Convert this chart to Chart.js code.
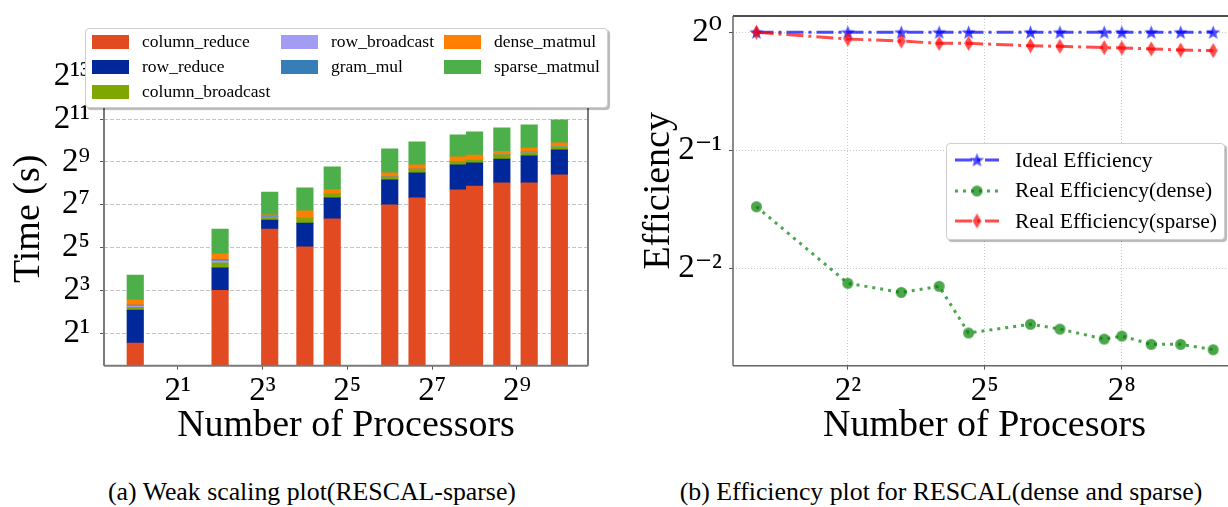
<!DOCTYPE html>
<html>
<head>
<meta charset="utf-8">
<script src="https://cdn.jsdelivr.net/npm/chart.js@4.4.0/dist/chart.umd.min.js"></script>
<style>
  html, body { margin: 0; padding: 0; width: 1228px; height: 507px; overflow: hidden; background: #fff; }
  body { position: relative; font-family: 'Liberation Serif', 'DejaVu Serif', serif; color: #000; }
  .wrap { position: absolute; top: 0; height: 460px; }
  #left-wrap { left: 0; width: 620px; }
  #right-wrap { left: 620px; width: 640px; }
  .legend { position: absolute; background: #fff; border: 1px solid #cfcfcf; border-radius: 4px;
            box-shadow: 2px 2px 1px rgba(0,0,0,0.28); box-sizing: border-box; }
  #time-legend { left: 85px; top: 28px; width: 523px; height: 80px; padding-left: 6px;
                 display: grid; grid-template-rows: repeat(3, 25px);
                 grid-template-columns: 189px 163px 160px; font-size: 17.5px; }
  #time-legend .item { display: flex; align-items: center; white-space: nowrap; }
  #time-legend .sw { width: 37px; height: 14px; margin-right: 13px; flex: none; }
  #eff-legend { left: 946px; top: 143px; width: 279px; height: 97px; padding: 1px 0 0 8px; font-size: 21.5px; }
  #eff-legend .item { display: flex; align-items: center; height: 30.5px; white-space: nowrap; }
  #eff-legend canvas { margin-right: 16px; flex: none; }
  .caption { position: absolute; top: 477px; font-size: 25.8px; line-height: 30px; text-align: center; }
</style>
</head>
<body>
<div class="wrap" id="left-wrap"><canvas id="timeChart"></canvas></div>
<div class="wrap" id="right-wrap"><canvas id="effChart"></canvas></div>
<div class="legend" id="time-legend"></div>
<div class="legend" id="eff-legend"></div>
<div class="caption" style="left:0; width:624px;">(a) Weak scaling plot(RESCAL-sparse)</div>
<div class="caption" style="left:620px; width:642px;">(b) Efficiency plot for RESCAL(dense and sparse)</div>

<script>
// --- Data ---
const processors = [1, 4, 9, 16, 25, 64, 100, 196, 256, 400, 625, 1024];

// time per kernel (s), stacked bottom to top
const columnReduce    = [1.46, 8.0, 58.5, 32.7, 81, 128, 160, 208, 235, 260, 260, 338];
const rowReduce       = [2.79, 8.6, 19.5, 37.8, 79, 158, 200, 257, 263, 304, 366, 422];
const columnBroadcast = [0.38, 2.9, 6.5, 13.4, 22, 27, 41, 43, 51, 79, 64, 78];
const rowBroadcast    = [0.22, 1.3, 2.0, 0.5, 0.5, 1, 2, 2, 2, 2, 3, 2];
const gramMul         = [0.12, 0.8, 2.1, 0.5, 0.5, 1, 2, 2, 2, 2, 14, 2];
const denseMatmul     = [0.93, 4.6, 4.0, 20, 26, 45, 60, 93, 86, 72, 102, 107];
const sparseMatmul    = [7.3, 32.3, 101, 116, 228, 421, 517, 630, 722, 822, 889, 1057];

// efficiency
const idealEff  = [1, 1, 1, 1, 1, 1, 1, 1, 1, 1, 1, 1];
const denseEff  = [0.359, 0.229, 0.217, 0.225, 0.171, 0.180, 0.175, 0.165, 0.168, 0.160, 0.160, 0.155];
const sparseEff = [1.0, 0.961, 0.950, 0.937, 0.937, 0.924, 0.921, 0.914, 0.912, 0.907, 0.901, 0.898];

// tick exponents (base 2)
const timeXTicks = [1, 3, 5, 7, 9];
const timeYTicks = [1, 3, 5, 7, 9, 11, 13];
const effXTicks  = [2, 5, 8];
const effYTicks  = [0, -1, -2];

// --- Helpers ---
const SUP = {'0':'⁰','1':'¹','2':'²','3':'³','4':'⁴','5':'⁵','6':'⁶','7':'⁷','8':'⁸','9':'⁹','-':'⁻'};
const pow2Label = (v) => '2' + String(Math.round(Math.log2(v))).split('').map(c => SUP[c]).join('');
const pow2Ticks = (exps) => (axis) => { axis.ticks = exps.map(e => ({ value: Math.pow(2, e) })); };
const pts = (ys) => processors.map((x, i) => ({ x: x, y: ys[i] }));

// fix the axis box size and drop the label overhang padding
const fixWidth = (w) => (s) => { s.width = w; s.paddingTop = 0; s.paddingBottom = 0; };
const fixHeight = (h) => (s) => { s.height = h; s.paddingLeft = 0; s.paddingRight = 0; };

Chart.defaults.font.family = "'Liberation Serif', 'DejaVu Serif', serif";
Chart.defaults.color = '#000';
Chart.defaults.animation = false;

// frame around plot area (matplotlib spines)
const framePlugin = {
    id: 'frame',
    afterDraw(chart, args, opts) {
        const { ctx, chartArea: a } = chart;
        ctx.save();
        ctx.lineWidth = opts.width;
        const side = (color, x1, y1, x2, y2) => {
            ctx.strokeStyle = color;
            ctx.beginPath(); ctx.moveTo(x1, y1); ctx.lineTo(x2, y2); ctx.stroke();
        };
        side(opts.top, a.left, a.top, a.right, a.top);
        side(opts.right, a.right, a.top, a.right, a.bottom);
        side(opts.left, a.left, a.top, a.left, a.bottom);
        side(opts.bottom, a.left, a.bottom, a.right, a.bottom);
        ctx.restore();
    }
};

// marker images
function starMarker(r, color) {
    const c = document.createElement('canvas');
    c.width = c.height = Math.ceil(r * 2 + 2);
    const g = c.getContext('2d');
    g.translate(c.width / 2, c.height / 2 + 0.5);
    g.beginPath();
    for (let i = 0; i < 10; i++) {
        const rr = i % 2 ? r * 0.42 : r;
        const a = -Math.PI / 2 + i * Math.PI / 5;
        g.lineTo(rr * Math.cos(a), rr * Math.sin(a));
    }
    g.closePath();
    g.fillStyle = color;
    g.fill();
    return c;
}
function diamondMarker(w, h, color) {
    const c = document.createElement('canvas');
    c.width = Math.ceil(w + 2); c.height = Math.ceil(h + 2);
    const g = c.getContext('2d');
    g.translate(c.width / 2, c.height / 2);
    g.beginPath();
    g.moveTo(0, -h / 2); g.lineTo(w / 2, 0); g.lineTo(0, h / 2); g.lineTo(-w / 2, 0);
    g.closePath();
    g.fillStyle = color;
    g.fill();
    return c;
}
function circleMarker(r, color) {
    const c = document.createElement('canvas');
    c.width = c.height = Math.ceil(r * 2 + 2);
    const g = c.getContext('2d');
    g.beginPath();
    g.arc(c.width / 2, c.height / 2, r, 0, Math.PI * 2);
    g.fillStyle = color;
    g.fill();
    return c;
}

// --- Weak scaling (stacked bars) ---
const kernels = [
    { label: 'column_reduce',    data: columnReduce,    color: '#e24a21' },
    { label: 'row_reduce',       data: rowReduce,       color: '#00289a' },
    { label: 'column_broadcast', data: columnBroadcast, color: '#7ea800' },
    { label: 'row_broadcast',    data: rowBroadcast,    color: '#a29cf2' },
    { label: 'gram_mul',         data: gramMul,         color: '#377eb8' },
    { label: 'dense_matmul',     data: denseMatmul,     color: '#ff7f00' },
    { label: 'sparse_matmul',    data: sparseMatmul,    color: '#4daf4a' }
];

const timeChart = new Chart(document.getElementById('timeChart').getContext('2d'), {
    type: 'bar',
    data: {
        datasets: kernels.map(k => ({
            label: k.label,
            data: pts(k.data),
            backgroundColor: k.color,
            borderWidth: 0,
            barThickness: 16.5
        }))
    },
    options: {
        responsive: true,
        maintainAspectRatio: false,
        layout: { padding: { left: 0, top: 72, right: 32, bottom: 11 } },
        plugins: {
            legend: { display: false },
            tooltip: { enabled: false },
            frame: { width: 2, top: '#7a7a7a', right: '#7a7a7a', left: '#7a7a7a', bottom: '#7a7a7a' }
        },
        scales: {
            x: {
                type: 'logarithmic',
                stacked: true,
                offset: false,
                min: Math.pow(2, -0.71),
                max: Math.pow(2, 10.675),
                afterBuildTicks: pow2Ticks(timeXTicks),
                afterFit: fixHeight(83.3),
                border: { display: false },
                grid: { offset: false, color: 'rgba(0,0,0,0)', tickColor: '#555', tickLength: 4 },
                ticks: { callback: pow2Label, autoSkip: false, maxRotation: 0, padding: 2, font: { size: 33 } },
                title: { display: true, text: 'Number of Processors', font: { size: 38 }, padding: { top: 0, bottom: 0 } }
            },
            y: {
                type: 'logarithmic',
                stacked: true,
                min: Math.pow(2, -0.51),
                max: Math.pow(2, 13.2),
                afterBuildTicks: pow2Ticks(timeYTicks),
                afterFit: fixWidth(104),
                border: { display: false, dash: [4, 2] },
                grid: { color: '#c4c4c4', tickColor: '#555', tickLength: 4, tickBorderDash: [] },
                ticks: { callback: pow2Label, autoSkip: false, padding: 10, font: { size: 33 } },
                title: { display: true, text: 'Time (s)', font: { size: 38 }, padding: { top: 6, bottom: 0 } }
            }
        }
    },
    plugins: [framePlugin]
});

// legend, filled column by column like matplotlib (3 + 2 + 2)
const timeLegend = document.getElementById('time-legend');
const legendCols = [0, 0, 0, 1, 1, 2, 2];
const legendRows = [0, 1, 2, 0, 1, 0, 1];
timeChart.data.datasets.forEach((ds, i) => {
    const item = document.createElement('div');
    item.className = 'item';
    item.style.gridColumn = String(legendCols[i] + 1);
    item.style.gridRow = String(legendRows[i] + 1);
    item.innerHTML = '<span class="sw" style="background:' + ds.backgroundColor + '"></span><span>' + ds.label + '</span>';
    timeLegend.appendChild(item);
});

// --- Efficiency (lines) ---
const blue = 'rgba(0,0,255,0.7)';
const green = 'rgba(0,128,0,0.7)';
const red = 'rgba(255,0,0,0.7)';
const dashDot = [17, 5, 3, 5];
const dotted = [3, 5];

const effSeries = [
    { label: 'Ideal Efficiency',        data: idealEff,  color: blue,  dash: dashDot, marker: starMarker(7.5, blue),        order: 2 },
    { label: 'Real Efficiency(dense)',  data: denseEff,  color: green, dash: dotted,  marker: circleMarker(5.5, green),     order: 1 },
    { label: 'Real Efficiency(sparse)', data: sparseEff, color: red,   dash: dashDot, marker: diamondMarker(9, 15, red),    order: 0 }
];

const effChart = new Chart(document.getElementById('effChart').getContext('2d'), {
    type: 'line',
    data: {
        datasets: effSeries.map(s => ({
            label: s.label,
            data: pts(s.data),
            borderColor: s.color,
            borderWidth: 3,
            borderDash: s.dash,
            pointStyle: s.marker,
            pointRadius: 6,
            order: s.order,
            fill: false,
            tension: 0
        }))
    },
    options: {
        responsive: true,
        maintainAspectRatio: false,
        layout: { padding: { left: 0, top: 16, right: 24, bottom: 11 } },
        plugins: {
            legend: { display: false },
            tooltip: { enabled: false },
            frame: { width: 1.5, top: '#111', right: '#111', left: '#666', bottom: '#666' }
        },
        scales: {
            x: {
                type: 'logarithmic',
                min: Math.pow(2, -0.5),
                max: Math.pow(2, 10.5),
                afterBuildTicks: pow2Ticks(effXTicks),
                afterFit: fixHeight(83.3),
                border: { display: false, dash: [1, 2] },
                grid: { color: '#c8c8c8', tickColor: '#555', tickLength: 4, tickBorderDash: [] },
                ticks: { callback: pow2Label, autoSkip: false, maxRotation: 0, padding: 2, font: { size: 33 } },
                title: { display: true, text: 'Number of Procesors', font: { size: 38 }, padding: { top: 0, bottom: 0 } }
            },
            y: {
                type: 'logarithmic',
                min: Math.pow(2, -2.825),
                max: Math.pow(2, 0.138),
                afterBuildTicks: pow2Ticks(effYTicks),
                afterFit: fixWidth(113),
                border: { display: false, dash: [1, 2] },
                grid: { color: '#c8c8c8', tickColor: '#555', tickLength: 4, tickBorderDash: [] },
                ticks: { callback: pow2Label, autoSkip: false, padding: 7, font: { size: 33 } },
                title: { display: true, text: 'Efficiency', font: { size: 38 }, padding: { top: 16, bottom: 0 } }
            }
        }
    },
    plugins: [framePlugin]
});

// legend handles: line + marker
const effLegend = document.getElementById('eff-legend');
effSeries.forEach(s => {
    const item = document.createElement('div');
    item.className = 'item';
    const c = document.createElement('canvas');
    c.width = 44; c.height = 20;
    const g = c.getContext('2d');
    g.strokeStyle = s.color;
    g.lineWidth = 3;
    g.setLineDash(s.dash);
    g.beginPath(); g.moveTo(0, 10); g.lineTo(44, 10); g.stroke();
    g.drawImage(s.marker, 22 - s.marker.width / 2, 10 - s.marker.height / 2);
    item.appendChild(c);
    const t = document.createElement('span');
    t.textContent = s.label;
    item.appendChild(t);
    effLegend.appendChild(item);
});
</script>
</body>
</html>
